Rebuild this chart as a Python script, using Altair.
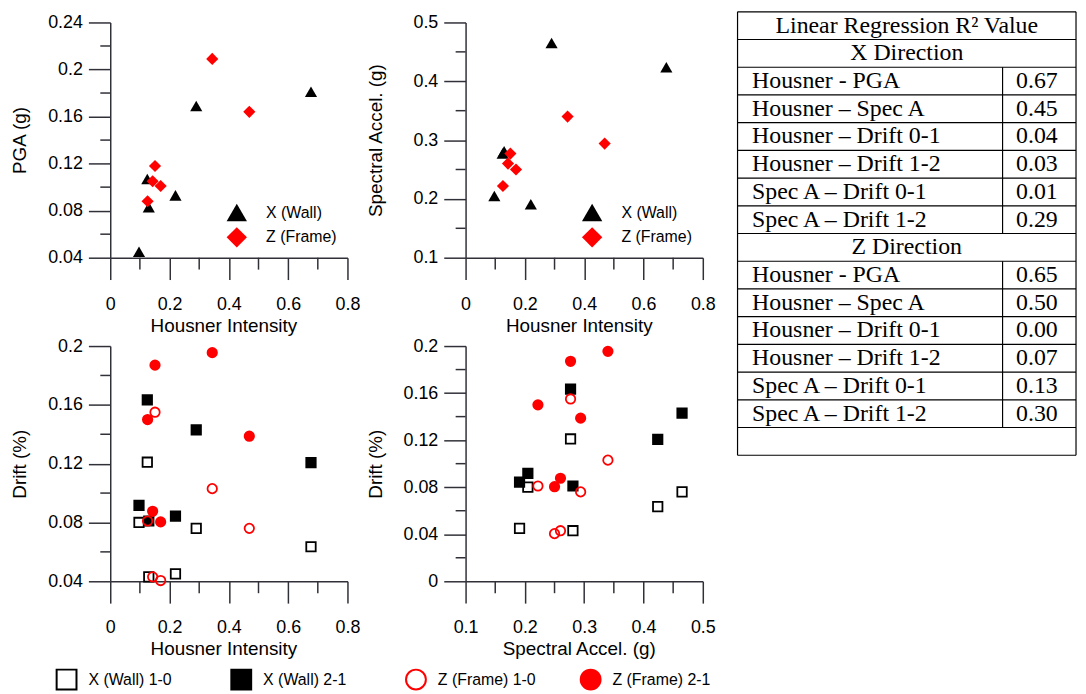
import altair as alt
import pandas as pd

# ---------------- data ----------------
# X direction (Wall)
x_housner = [0.097, 0.125, 0.130, 0.220, 0.290, 0.677]
x_pga = [0.045, 0.107, 0.083, 0.093, 0.169, 0.181]
x_spec = [0.205, 0.277, 0.281, 0.191, 0.465, 0.424]
x_drift10 = [0.080, 0.121, 0.043, 0.045, 0.076, 0.0635]
x_drift21 = [0.0917, 0.1634, 0.081, 0.0843, 0.143, 0.1207]

# Z direction (Frame)
z_housner = [0.126, 0.143, 0.151, 0.170, 0.344, 0.469]
z_pga = [0.088, 0.105, 0.118, 0.101, 0.209, 0.164]
z_spec = [0.222, 0.260, 0.277, 0.250, 0.340, 0.294]
z_drift10 = [0.081, 0.043, 0.155, 0.0405, 0.103, 0.076]
z_drift21 = [0.150, 0.0876, 0.187, 0.0804, 0.1955, 0.1387]

dir_labels = ["X (Wall)", "Z (Frame)"]
drift_labels = ["X (Wall) 1-0", "X (Wall) 2-1", "Z (Frame) 1-0", "Z (Frame) 2-1"]

table_title = "Linear Regression R\u00b2 Value"
table_sections = ["X Direction", "Z Direction"]
table_pairs = ["Housner - PGA", "Housner \u2013 Spec A", "Housner \u2013 Drift 0-1",
               "Housner \u2013 Drift 1-2", "Spec A \u2013 Drift 0-1", "Spec A \u2013 Drift 1-2"]
x_r2 = ["0.67", "0.45", "0.04", "0.03", "0.01", "0.29"]
z_r2 = ["0.65", "0.50", "0.00", "0.07", "0.13", "0.30"]

# ---------------- tables for the library ----------------
df_top = pd.DataFrame({
    "housner": x_housner + z_housner,
    "pga": x_pga + z_pga,
    "spec": x_spec + z_spec,
    "dir": [dir_labels[0]] * len(x_housner) + [dir_labels[1]] * len(z_housner),
})

rows = []
for lab, hs, sp, dr in [
    (drift_labels[0], x_housner, x_spec, x_drift10),
    (drift_labels[1], x_housner, x_spec, x_drift21),
    (drift_labels[2], z_housner, z_spec, z_drift10),
    (drift_labels[3], z_housner, z_spec, z_drift21),
]:
    for h, s, d in zip(hs, sp, dr):
        rows.append({"housner": h, "spec": s, "drift": d, "series": lab})
df_bot = pd.DataFrame(rows)
df_leg = pd.DataFrame({"series": drift_labels})

FONT = "Liberation Sans"
SERIF = "Liberation Serif"
AX = "#303038"
LW = 1.5
PW, PH = 239, 237
MAJOR_TICK = 22
MINOR_TICK_X = 12
MINOR_TICK_Y = 10


def major_axis(orient, values, title):
    bottom = orient == "bottom"
    common = dict(orient=orient, values=values, title=title, format=".2~f", ticks=True,
                  tickSize=MAJOR_TICK, tickColor=AX, tickWidth=LW, domain=True, domainColor=AX,
                  domainWidth=LW, labelPadding=16 if bottom else 6, labelFlush=False,
                  labelOverlap=False, grid=False, labelFont=FONT, labelFontSize=18,
                  labelColor="black", titleFont=FONT, titleFontSize=19, titleFontWeight="normal",
                  titleColor="black", titleBaseline="middle", titleAlign="center")
    if bottom:
        return alt.Axis(titleX=114, titleY=68, **common)
    return alt.Axis(titleX=-91, titleY=PH / 2, **common)


def scatter(df, xf, yf, xdom, ydom, xv, xm, yv, ym, xt, yt, styled):
    xs = alt.Scale(domain=xdom, nice=False, zero=False)
    ys = alt.Scale(domain=ydom, nice=False, zero=False)
    xax = major_axis("bottom", xv, xt)
    yax = major_axis("left", yv, yt)
    pts = styled(alt.Chart(df)).encode(x=alt.X(f"{xf}:Q", scale=xs, axis=xax),
                                       y=alt.Y(f"{yf}:Q", scale=ys, axis=yax))
    # minor tick marks, positioned through the same scales
    mx = alt.Chart(pd.DataFrame({"v": xm})).mark_rule(color=AX, strokeWidth=LW, clip=False).encode(
        x=alt.X("v:Q", scale=xs, axis=xax), y=alt.value(PH), y2=alt.value(PH + MINOR_TICK_X))
    my = alt.Chart(pd.DataFrame({"v": ym})).mark_rule(color=AX, strokeWidth=LW, clip=False).encode(
        y=alt.Y("v:Q", scale=ys, axis=yax), x=alt.value(0), x2=alt.value(-MINOR_TICK_Y))
    return alt.layer(mx, my, pts).properties(width=PW, height=PH)


def top_style(base):
    leg = alt.Legend(title=None, orient="none", legendX=117, legendY=181, symbolSize=420,
                     labelFont=FONT, labelFontSize=16, labelColor="black", labelOffset=19,
                     rowPadding=5, padding=0, symbolStrokeWidth=0)
    return base.mark_point(filled=True, size=150, opacity=1).encode(
        color=alt.Color("dir:N", scale=alt.Scale(domain=dir_labels, range=["black", "red"]), legend=leg),
        shape=alt.Shape("dir:N", scale=alt.Scale(domain=dir_labels, range=["triangle-up", "diamond"]),
                        legend=leg),
    )


def drift_encodings(leg):
    return dict(
        shape=alt.Shape("series:N", scale=alt.Scale(domain=drift_labels,
                                                    range=["square", "square", "circle", "circle"]),
                        legend=leg),
        stroke=alt.Stroke("series:N", scale=alt.Scale(domain=drift_labels,
                                                      range=["black", "black", "red", "red"]),
                          legend=leg),
        fill=alt.Fill("series:N", scale=alt.Scale(domain=drift_labels,
                                                  range=["transparent", "black", "transparent", "red"]),
                      legend=leg),
    )


def bot_style(base):
    return base.mark_point(filled=False, size=90, strokeWidth=1.8, opacity=1).encode(
        **drift_encodings(None))


hx_major = [0, 0.2, 0.4, 0.6, 0.8]
hx_minor = [0.1, 0.3, 0.5, 0.7]
sx_major = [0.1, 0.2, 0.3, 0.4, 0.5]
sx_minor = [0.15, 0.25, 0.35, 0.45]

p1 = scatter(df_top, "housner", "pga", [0, 0.8], [0.04, 0.24], hx_major, hx_minor,
             [0.04, 0.08, 0.12, 0.16, 0.2, 0.24], [0.06, 0.1, 0.14, 0.18, 0.22],
             "Housner Intensity", "PGA (g)", top_style)
p2 = scatter(df_top, "housner", "spec", [0, 0.8], [0.1, 0.5], hx_major, hx_minor,
             [0.1, 0.2, 0.3, 0.4, 0.5], [0.15, 0.25, 0.35, 0.45],
             "Housner Intensity", "Spectral Accel. (g)", top_style)
p3 = scatter(df_bot, "housner", "drift", [0, 0.8], [0.04, 0.2], hx_major, hx_minor,
             [0.04, 0.08, 0.12, 0.16, 0.2], [0.06, 0.1, 0.14, 0.18],
             "Housner Intensity", "Drift (%)", bot_style)
p4 = scatter(df_bot, "spec", "drift", [0.1, 0.5], [0, 0.2], sx_major, sx_minor,
             [0, 0.04, 0.08, 0.12, 0.16, 0.2], [0.02, 0.06, 0.1, 0.14, 0.18],
             "Spectral Accel. (g)", "Drift (%)", bot_style)

# ---------------- shared legend row for the drift panels ----------------
bottom_legend = alt.Legend(title=None, orient="none", legendX=-55, legendY=9, direction="horizontal",
                           columns=4, gridAlign="all", columnPadding=41, symbolSize=400,
                           symbolStrokeWidth=2, symbolOpacity=1, labelOffset=11, labelFont=FONT,
                           labelFontSize=16, labelColor="black", padding=0, labelLimit=300)
legend_row = alt.Chart(df_leg).mark_point(filled=False, size=10, opacity=0).encode(
    **drift_encodings(bottom_legend)).properties(width=20, height=20)

# ---------------- R^2 table ----------------
COL_NAME = 0.043
COL_DIV = 0.783
COL_VAL = 0.823
n_pairs = len(table_pairs)
sec_rows = [1, 2 + n_pairs]
n_rows = 2 + 2 * (n_pairs + 1)
TABLE_H = 436
TOP_LIFT = 0.385  # the table starts a little above the plots' top edge

center_txt = pd.DataFrame({
    "row": [0.5, sec_rows[0] + 0.5, sec_rows[1] + 0.5],
    "x": [0.5, 0.5, 0.5],
    "label": [table_title] + table_sections,
})
left_rows = []
for s, vals in zip(sec_rows, [x_r2, z_r2]):
    for i, (p, v) in enumerate(zip(table_pairs, vals)):
        left_rows.append({"row": s + 1 + i + 0.5, "x": COL_NAME, "label": p})
        left_rows.append({"row": s + 1 + i + 0.5, "x": COL_VAL, "label": v})
left_txt = pd.DataFrame(left_rows)

lines = [{"x0": 0, "x1": 1, "y0": b, "y1": b} for b in range(n_rows + 1)]
lines += [{"x0": 0, "x1": 0, "y0": 0, "y1": n_rows}, {"x0": 1, "x1": 1, "y0": 0, "y1": n_rows}]
for s in sec_rows:
    lines.append({"x0": COL_DIV, "x1": COL_DIV, "y0": s + 1, "y1": s + 1 + n_pairs})
df_lines = pd.DataFrame(lines)

tx = alt.Scale(domain=[0, 1], nice=False, zero=False)
ty = alt.Scale(domain=[TOP_LIFT, n_rows], nice=False, zero=False, reverse=True)

t_lines = alt.Chart(df_lines).mark_rule(color="black", strokeWidth=1.2, clip=False).encode(
    x=alt.X("x0:Q", scale=tx, axis=None), x2="x1:Q",
    y=alt.Y("y0:Q", scale=ty, axis=None), y2="y1:Q")
t_center = alt.Chart(center_txt).mark_text(font=SERIF, fontSize=24, align="center",
                                           baseline="middle", color="black").encode(
    x=alt.X("x:Q", scale=tx, axis=None), y=alt.Y("row:Q", scale=ty, axis=None), text="label:N")
t_left = alt.Chart(left_txt).mark_text(font=SERIF, fontSize=24, align="left",
                                       baseline="middle", color="black").encode(
    x=alt.X("x:Q", scale=tx, axis=None), y=alt.Y("row:Q", scale=ty, axis=None), text="label:N")
table = alt.layer(t_lines, t_center, t_left).properties(width=341, height=TABLE_H)

ind = dict(color="independent", shape="independent", fill="independent", stroke="independent")
top = alt.hconcat(p1, p2, spacing=4).resolve_scale(**ind)
bottom = alt.hconcat(p3, p4, spacing=4).resolve_scale(**ind)
left = alt.vconcat(top, bottom, legend_row, spacing=0).resolve_scale(**ind)
chart = alt.concat(left, table, columns=2, spacing=19, align="none").resolve_scale(**ind).properties(
    padding={"left": 2, "top": 0, "right": 0, "bottom": 0}, background="white"
).configure_view(stroke="transparent")

chart.save("out.html", embed_options={"renderer": "svg", "actions": False})
